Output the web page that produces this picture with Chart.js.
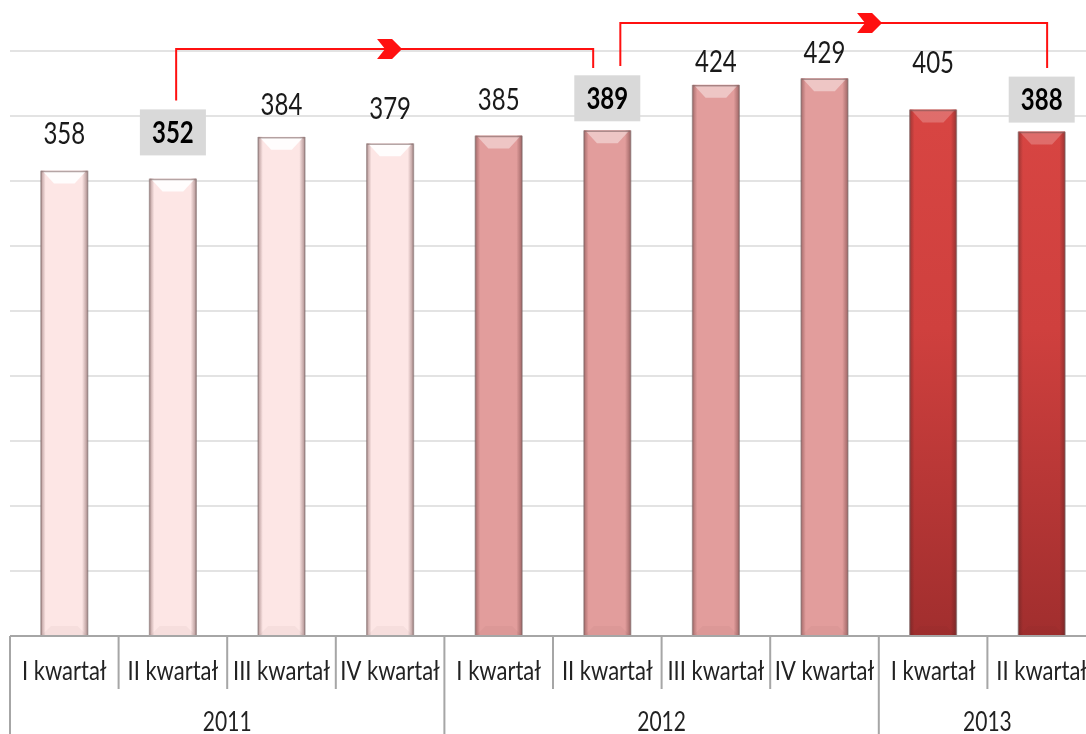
<!DOCTYPE html>
<html>
<head>
<meta charset="utf-8">
<script src="https://cdn.jsdelivr.net/npm/chart.js@4.4.1/dist/chart.umd.min.js"></script>
<style>
  html, body { margin: 0; padding: 0; background: #fff; overflow: hidden; width: 1086px; height: 734px; }
  #wrap { position: absolute; left: 0; top: -30px; width: 1110px; height: 764px; }
</style>
</head>
<body>
<div id="wrap"><canvas id="chart01" width="1110" height="764"></canvas></div>
<script>
/* Data */
const quarters = ['I kwartał', 'II kwartał', 'III kwartał', 'IV kwartał',
                  'I kwartał', 'II kwartał', 'III kwartał', 'IV kwartał',
                  'I kwartał', 'II kwartał'];
const years = ['2011', '2012', '2013'];
const yearIndex = [0, 0, 0, 0, 1, 1, 1, 1, 2, 2];
const values = [358, 352, 384, 379, 385, 389, 424, 429, 405, 388];
const boxed = [1, 5, 9]; // labels drawn bold on a grey box

/* Styles */
const yearColors = ['#fde6e5', '#e29d9c', '#d64542'];
const bevelAlpha = [0.9, 0.42, 0.22];
const labelLift = [37, 46, 32, 35, 36, 32, 23, 26, 47, 32]; // px between bar top and label centre
const arrowLinks = [
  { from: 1.03, to: 4.87, top: 451.5, start: 412, end: 437, head: 3.11 },
  { from: 5.12, to: 9.05, top: 471.5, start: 438.5, end: 437, head: 7.53 }
];
const FONT = 'Lato, "Open Sans", sans-serif';
const STRETCH = 1.25;

function stretchedText(ctx, text, x, y, font, color) {
  ctx.save();
  ctx.translate(x, y);
  ctx.scale(1, STRETCH);
  ctx.font = font;
  ctx.fillStyle = color;
  ctx.textAlign = 'center';
  ctx.textBaseline = 'alphabetic';
  ctx.fillText(text, 0, 0);
  ctx.restore();
}

function barColor(c) {
  const yr = yearIndex[c.dataIndex];
  const chart = c.chart;
  if (yr !== 2 || !chart.chartArea) return yearColors[yr];
  const ys = chart.scales.y;
  const g = chart.ctx.createLinearGradient(0, ys.getPixelForValue(430), 0, ys.getPixelForValue(0));
  g.addColorStop(0, '#d94643');
  g.addColorStop(0.45, '#cf403e');
  g.addColorStop(1, '#a12e2e');
  return g;
}

/* bevel / shading on the bars */
const bevelPlugin = {
  id: 'bevel',
  afterDatasetsDraw(chart) {
    const ctx = chart.ctx;
    const meta = chart.getDatasetMeta(0);
    meta.data.forEach((bar, i) => {
      const { x, y, base, width } = bar.getProps(['x', 'y', 'base', 'width'], true);
      const l = x - width / 2, r = x + width / 2, h = base - y;
      ctx.save();
      // side shading
      const g = ctx.createLinearGradient(l, 0, r, 0);
      g.addColorStop(0, 'rgba(70,30,30,0.38)');
      g.addColorStop(0.1, 'rgba(70,30,30,0)');
      g.addColorStop(0.88, 'rgba(70,30,30,0)');
      g.addColorStop(1, 'rgba(70,30,30,0.42)');
      ctx.fillStyle = g;
      ctx.fillRect(l, y, width, h);
      // top bevel
      const b = 13;
      ctx.beginPath();
      ctx.moveTo(l + 2, y + 1);
      ctx.lineTo(r - 2, y + 1);
      ctx.lineTo(r - b, y + b);
      ctx.lineTo(l + b, y + b);
      ctx.closePath();
      ctx.fillStyle = 'rgba(255,255,255,' + bevelAlpha[yearIndex[i]] + ')';
      ctx.fill();
      // bottom bevel
      ctx.beginPath();
      ctx.moveTo(l + 1, base);
      ctx.lineTo(r - 1, base);
      ctx.lineTo(r - 10, base - 9);
      ctx.lineTo(l + 10, base - 9);
      ctx.closePath();
      ctx.fillStyle = 'rgba(60,20,20,0.035)';
      ctx.fill();
      // outline
      ctx.strokeStyle = 'rgba(120,100,100,0.55)';
      ctx.lineWidth = 1.5;
      ctx.beginPath();
      ctx.moveTo(l, base); ctx.lineTo(l, y + 1); ctx.lineTo(r, y + 1); ctx.lineTo(r, base);
      ctx.stroke();
      ctx.restore();
    });
  }
};

/* value labels, category axis, arrows */
const decorPlugin = {
  id: 'decor',
  afterDraw(chart) {
    const ctx = chart.ctx;
    const xs = chart.scales.x, ys = chart.scales.y;
    const area = chart.chartArea;
    const axisY = ys.getPixelForValue(0);
    const step = xs.getPixelForValue(1) - xs.getPixelForValue(0);
    const meta = chart.getDatasetMeta(0);

    // value labels
    meta.data.forEach((bar, i) => {
      const cy = bar.y - labelLift[i];
      if (boxed.includes(i)) {
        ctx.fillStyle = '#d9d9d9';
        ctx.fillRect(bar.x - 33, cy - 23, 66, 46);
        stretchedText(ctx, String(values[i]), bar.x, cy + 10.5, 'bold 24px ' + FONT, '#000');
      } else {
        stretchedText(ctx, String(values[i]), bar.x, cy + 10.5, '24px ' + FONT, '#1a1a1a');
      }
    });

    // category axis
    ctx.save();
    ctx.strokeStyle = '#a6a6a6';
    ctx.lineWidth = 2;
    ctx.beginPath();
    ctx.moveTo(area.left, axisY);
    ctx.lineTo(area.left, chart.height);
    for (let i = 1; i < quarters.length; i++) {
      const bx = xs.getPixelForValue(i) - step / 2;
      const yearEdge = yearIndex[i] !== yearIndex[i - 1];
      ctx.moveTo(bx, axisY);
      ctx.lineTo(bx, yearEdge ? chart.height : axisY + 53);
    }
    ctx.stroke();
    ctx.restore();

    quarters.forEach((q, i) => {
      stretchedText(ctx, q, xs.getPixelForValue(i), axisY + 44, '22px ' + FONT, '#222');
    });
    years.forEach((yr, k) => {
      const idx = yearIndex.map((v, i) => v === k ? i : -1).filter(i => i >= 0);
      const cx = (xs.getPixelForValue(idx[0]) + xs.getPixelForValue(idx[idx.length - 1])) / 2;
      stretchedText(ctx, yr, cx, axisY + 95, '21px ' + FONT, '#222');
    });

    // red arrows
    ctx.save();
    ctx.strokeStyle = '#ff1010';
    ctx.fillStyle = '#ff1010';
    ctx.lineWidth = 2;
    arrowLinks.forEach(a => {
      const x1 = xs.getPixelForValue(a.from), x2 = xs.getPixelForValue(a.to);
      const yt = ys.getPixelForValue(a.top);
      ctx.beginPath();
      ctx.moveTo(x1, ys.getPixelForValue(a.start));
      ctx.lineTo(x1, yt);
      ctx.lineTo(x2, yt);
      ctx.lineTo(x2, ys.getPixelForValue(a.end));
      ctx.stroke();
      const tx = xs.getPixelForValue(a.head);
      ctx.beginPath();
      ctx.moveTo(tx - 25, yt - 10);
      ctx.lineTo(tx - 10, yt - 10);
      ctx.lineTo(tx, yt);
      ctx.lineTo(tx - 10, yt + 10);
      ctx.lineTo(tx - 25, yt + 10);
      ctx.lineTo(tx - 17, yt);
      ctx.closePath();
      ctx.fill();
    });
    ctx.restore();
  }
};

/* Chart Configuration */
const config01 = {
  type: 'bar',
  data: {
    labels: quarters,
    datasets: [{
      data: values,
      backgroundColor: barColor,
      borderWidth: 0,
      barPercentage: 0.43,
      categoryPercentage: 1
    }]
  },
  options: {
    responsive: false,
    animation: false,
    devicePixelRatio: 1,
    layout: { padding: { left: 10, right: 14, top: 16, bottom: 98 } },
    plugins: { legend: { display: false }, tooltip: { enabled: false } },
    scales: {
      x: { display: false },
      y: {
        min: 0, max: 500,
        ticks: { display: false, stepSize: 50 },
        border: { display: false },
        grid: {
          drawTicks: false,
          lineWidth: 2,
          color: c => c.tick && c.tick.value === 0 ? '#a6a6a6' : '#e3e3e3'
        }
      }
    }
  },
  plugins: [bevelPlugin, decorPlugin]
};

/* Chart Initialization */
new Chart(document.getElementById('chart01'), config01);
</script>
</body>
</html>
